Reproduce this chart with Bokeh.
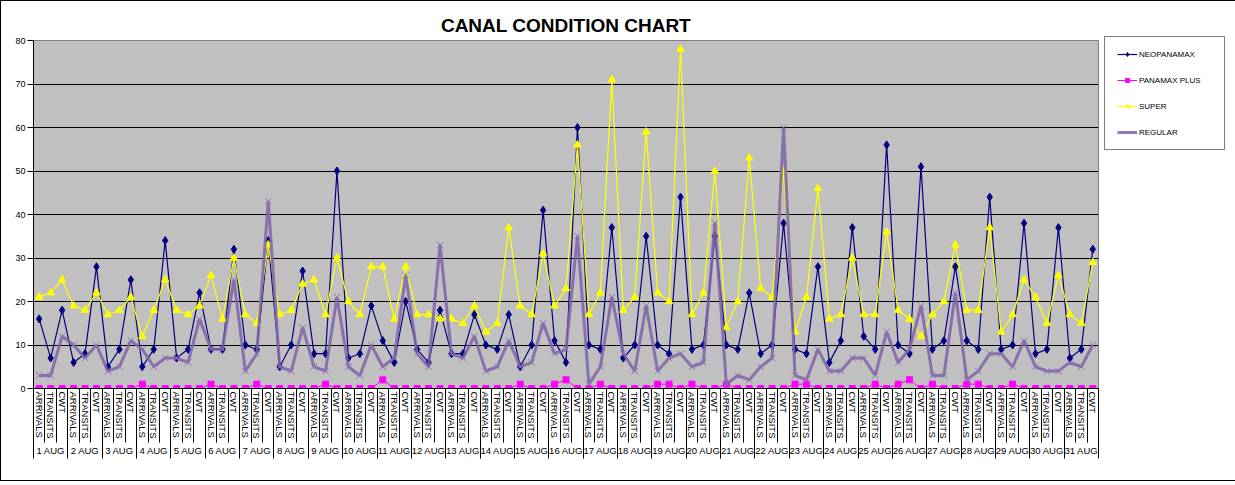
from bokeh.plotting import figure
from bokeh.models import (Legend, LegendItem, ColumnDataSource, SingleIntervalTicker, Range1d,
                          FixedTicker, LinearAxis)
from bokeh.embed import file_html
from bokeh.resources import INLINE

title_text = "CANAL CONDITION CHART"
days = [f"{d} AUG" for d in range(1, 32)]
kinds = ["ARRIVALS", "TRANSITS", "CWT"]

neopanamax = [16, 7, 18, 6, 8, 28, 5, 9, 25, 5, 9, 34, 7, 9, 22, 9, 9, 32, 10, 9, 34,
              5, 10, 27, 8, 8, 50, 7, 8, 19, 11, 6, 20, 9, 6, 18, 8, 8, 17, 10, 9, 17, 5, 10, 41, 11,
              6, 60, 10, 9, 37, 7, 10, 35, 10, 8, 44, 9, 10, 35, 10, 9, 22, 8, 10, 38, 9, 8, 28,
              6, 11, 37, 12, 9, 56, 10, 8, 51, 9, 11, 28, 11, 9, 44, 9, 10, 38, 8, 9, 37, 7, 9, 32]
panamax_plus = [0, 0, 0, 0, 0, 0, 0, 0, 0, 1, 0, 0, 0, 0, 0, 1, 0, 0, 0, 1, 0,
                0, 0, 0, 0, 1, 0, 0, 0, 0, 2, 0, 0, 0, 0, 0, 0, 0, 0, 0, 0, 0, 1, 0, 0, 1,
                2, 0, 0, 1, 0, 0, 0, 0, 1, 1, 0, 1, 0, 0, 1, 0, 0, 0, 0, 0, 1, 1, 0,
                0, 0, 0, 0, 1, 0, 1, 2, 0, 1, 0, 0, 1, 1, 0, 0, 1, 0, 0, 0, 0, 0, 0, 0]
super_ = [21, 22, 25, 19, 18, 22, 17, 18, 21, 12, 18, 25, 18, 17, 19, 26, 16, 30, 17, 15, 33,
          17, 18, 24, 25, 17, 30, 20, 17, 28, 28, 16, 28, 17, 17, 16, 16, 15, 19, 13, 15, 37, 19, 17, 31, 19,
          23, 56, 17, 22, 71, 18, 21, 59, 22, 20, 78, 17, 22, 50, 14, 20, 53, 23, 21, 50, 13, 21, 46,
          16, 17, 30, 17, 17, 36, 18, 16, 12, 17, 20, 33, 18, 18, 37, 13, 17, 25, 21, 15, 26, 17, 15, 29]
regular = [3, 3, 12, 10, 7, 10, 4, 5, 11, 9, 5, 7, 7, 6, 16, 9, 9, 25, 4, 8, 43,
           5, 4, 14, 5, 4, 21, 5, 3, 10, 5, 7, 26, 8, 5, 33, 8, 7, 12, 4, 5, 11, 5, 6, 15, 8,
           9, 35, 1, 5, 21, 8, 4, 19, 4, 7, 8, 5, 6, 38, 1, 3, 2, 5, 7, 60, 3, 2, 9,
           4, 4, 7, 7, 3, 13, 6, 9, 19, 3, 3, 22, 2, 4, 8, 8, 5, 11, 5, 4, 4, 6, 5, 10]

# category positions (one slot per day/kind pair)
n_k = len(kinds)
cat_labels = [k for d in days for k in kinds]
xpos = list(range(len(cat_labels)))
day_centers = [i * n_k + (n_k - 1) // 2 for i in range(len(days))]
cat_bounds = [i - 0.5 for i in range(len(cat_labels) + 1)]
day_bounds = [i * n_k - 0.5 for i in range(len(days) + 1)]

src = ColumnDataSource(dict(x=xpos, neo=neopanamax, pp=panamax_plus, sup=super_, reg=regular))

FONT = "Liberation Sans"

p = figure(x_range=Range1d(-0.5, len(cat_labels) - 0.5), y_range=Range1d(0, 80),
           frame_width=1065, frame_height=348, output_backend="svg", toolbar_location=None,
           min_border_left=32, min_border_top=39, min_border_bottom=92, min_border_right=5)
p.styles = {"border": "1px solid black"}

p.title.text = title_text
p.title.align = "center"
p.title.text_font = FONT
p.title.text_font_style = "bold"
p.title.text_font_size = "19px"
p.title.text_color = "black"

p.background_fill_color = "#C0C0C0"
p.border_fill_color = "white"
p.outline_line_color = "#808080"
p.outline_line_width = 1

p.xgrid.grid_line_color = None
p.ygrid.grid_line_color = "black"
p.ygrid.grid_line_width = 1
p.ygrid.ticker = SingleIntervalTicker(interval=10)

p.yaxis.ticker = SingleIntervalTicker(interval=10)
p.yaxis.minor_tick_line_color = None
p.yaxis.major_tick_in = 0
p.yaxis.major_tick_out = 6
p.yaxis.axis_line_color = "black"
p.yaxis.major_tick_line_color = "black"
p.yaxis.major_label_text_font = FONT
p.yaxis.major_label_text_font_size = "9px"
p.yaxis.major_label_text_color = "black"
p.yaxis.major_label_standoff = 2

# inner x axis: kind labels, separators between every category
xa = p.xaxis[0]
xa.ticker = FixedTicker(ticks=xpos, minor_ticks=cat_bounds)
xa.major_label_overrides = {i: lab for i, lab in zip(xpos, cat_labels)}
xa.major_label_orientation = "vertical"
xa.major_label_text_font = FONT
xa.major_label_text_font_size = "9.5px"
xa.major_label_text_color = "black"
xa.major_tick_in = 0
xa.major_tick_out = 0
xa.major_tick_line_color = None
xa.minor_tick_in = 0
xa.minor_tick_out = 54
xa.major_label_standoff = -51
xa.minor_tick_line_color = "black"
xa.axis_line_color = "black"

# outer x axis: day labels, separators between days
xa2 = LinearAxis(ticker=FixedTicker(ticks=day_centers, minor_ticks=day_bounds))
xa2.major_label_overrides = {c: d for c, d in zip(day_centers, days)}
xa2.major_label_text_font = FONT
xa2.major_label_text_font_size = "9.5px"
xa2.major_label_text_color = "black"
xa2.major_tick_in = 0
xa2.major_tick_out = 0
xa2.major_tick_line_color = None
xa2.minor_tick_in = 4
xa2.minor_tick_out = 17
xa2.major_label_standoff = -14
xa2.minor_tick_line_color = "black"
xa2.axis_line_color = None
p.add_layout(xa2, "below")

r_neo_l = p.line("x", "neo", source=src, line_color="#000080", line_width=1.2)
r_neo_m = p.scatter("x", "neo", source=src, marker="diamond", size=8, fill_color="#000080", line_color="#000080")
r_pp_l = p.line("x", "pp", source=src, line_color="#FF00FF", line_width=1)
r_pp_m = p.scatter("x", "pp", source=src, marker="square", size=6, fill_color="#FF00FF", line_color="#FF00FF")
r_sup_l = p.line("x", "sup", source=src, line_color="#FFFF00", line_width=1.2)
r_sup_m = p.scatter("x", "sup", source=src, marker="triangle", size=7.5, fill_color="#FFFF00", line_color="#FFFF00")
r_reg_l = p.line("x", "reg", source=src, line_color="#7F62A8", line_width=3, line_alpha=0.85)
r_reg_m = p.scatter("x", "reg", source=src, marker="x", size=9, line_color="#8B72B5", line_width=1)

legend = Legend(items=[
    LegendItem(label="NEOPANAMAX", renderers=[r_neo_l, r_neo_m]),
    LegendItem(label="PANAMAX PLUS", renderers=[r_pp_l, r_pp_m]),
    LegendItem(label="SUPER", renderers=[r_sup_l, r_sup_m]),
    LegendItem(label="REGULAR", renderers=[r_reg_l, r_reg_m]),
], location=(6, 238))
legend.label_text_font = FONT
legend.label_text_font_size = "8px"
legend.label_text_color = "black"
legend.border_line_color = "black"
legend.border_line_width = 1
legend.padding = 12
legend.margin = 5
legend.spacing = 16
legend.glyph_width = 20
legend.glyph_height = 10
legend.label_height = 10
legend.label_standoff = 2
legend.label_width = 73
p.add_layout(legend, "right")

open("out.html", "w").write(file_html(p, INLINE))
